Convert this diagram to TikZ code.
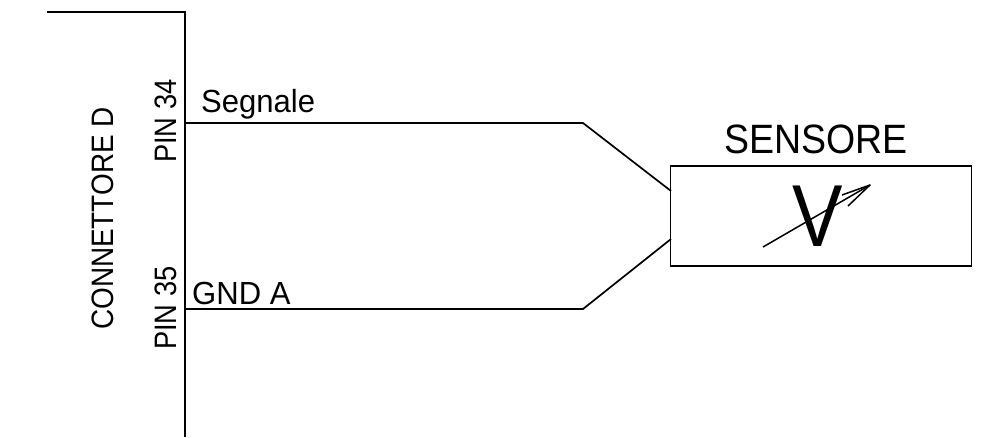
\documentclass[tikz,border=0pt]{standalone}
\usepackage{graphicx}
\usepackage{fontspec}
\setmainfont{Liberation Sans}
\newcommand{\wtext}[3]{\scalebox{#2}[1]{\fontsize{#1}{#1}\selectfont #3}}
\begin{document}
\begin{tikzpicture}[x=1pt,y=-1pt,
  wire/.style={draw=black,line width=1.7pt,line join=miter},
  tipline/.style={draw=black,line width=1.5pt,line join=round},
  label/.style={inner sep=0pt,text=black,anchor=base west}]
\useasboundingbox (0,0) rectangle (983,437);
\node[draw=black,line width=1.7pt,outer sep=0pt,minimum width=301pt,minimum height=100pt,inner sep=0pt,anchor=north west] (sensor) at (670.5,166) {};
\coordinate (ct) at (47,12);
\coordinate (cc) at (185,12);
\coordinate (cb) at (185,437);
\coordinate (p34) at (185,123);
\coordinate (p35) at (185,309);
\coordinate (b34) at (583,123);
\coordinate (b35) at (583,309);
\coordinate (s34) at (671,191);
\coordinate (s35) at (671,239);
\draw[wire] (ct) -- (cc) -- (cb);
\draw[wire] (p34) -- (b34) -- (s34);
\draw[wire] (p35) -- (b35) -- (s35);
\node[label] (title) at (724,153.5) {\wtext{41}{.915}{SENSORE}};
\node[label] (seg) at (201,112) {\wtext{32}{.97}{Segnale}};
\node[label] (gnd) at (192,304) {\wtext{32}{.97}{GND A}};
\node[label,rotate=90] (pin34) at (176.5,163) {\wtext{31}{.88}{PIN 34}};
\node[label,rotate=90] (pin35) at (176.5,350) {\wtext{31}{.88}{PIN 35}};
\node[label,rotate=90] (conn) at (113.5,330) {\wtext{31}{.9}{CONNETTORE D}};
\node[label] (vv) at (792,246) {\wtext{88}{.86}{V}};
\coordinate (a0) at (763,247);
\coordinate (a1) at (870,185);
\coordinate (a2) at (842,195);
\coordinate (a3) at (848,206);
\draw[tipline] (a0) -- (a1);
\draw[tipline] (a2) -- (a1) -- (a3);
\end{tikzpicture}
\end{document}
